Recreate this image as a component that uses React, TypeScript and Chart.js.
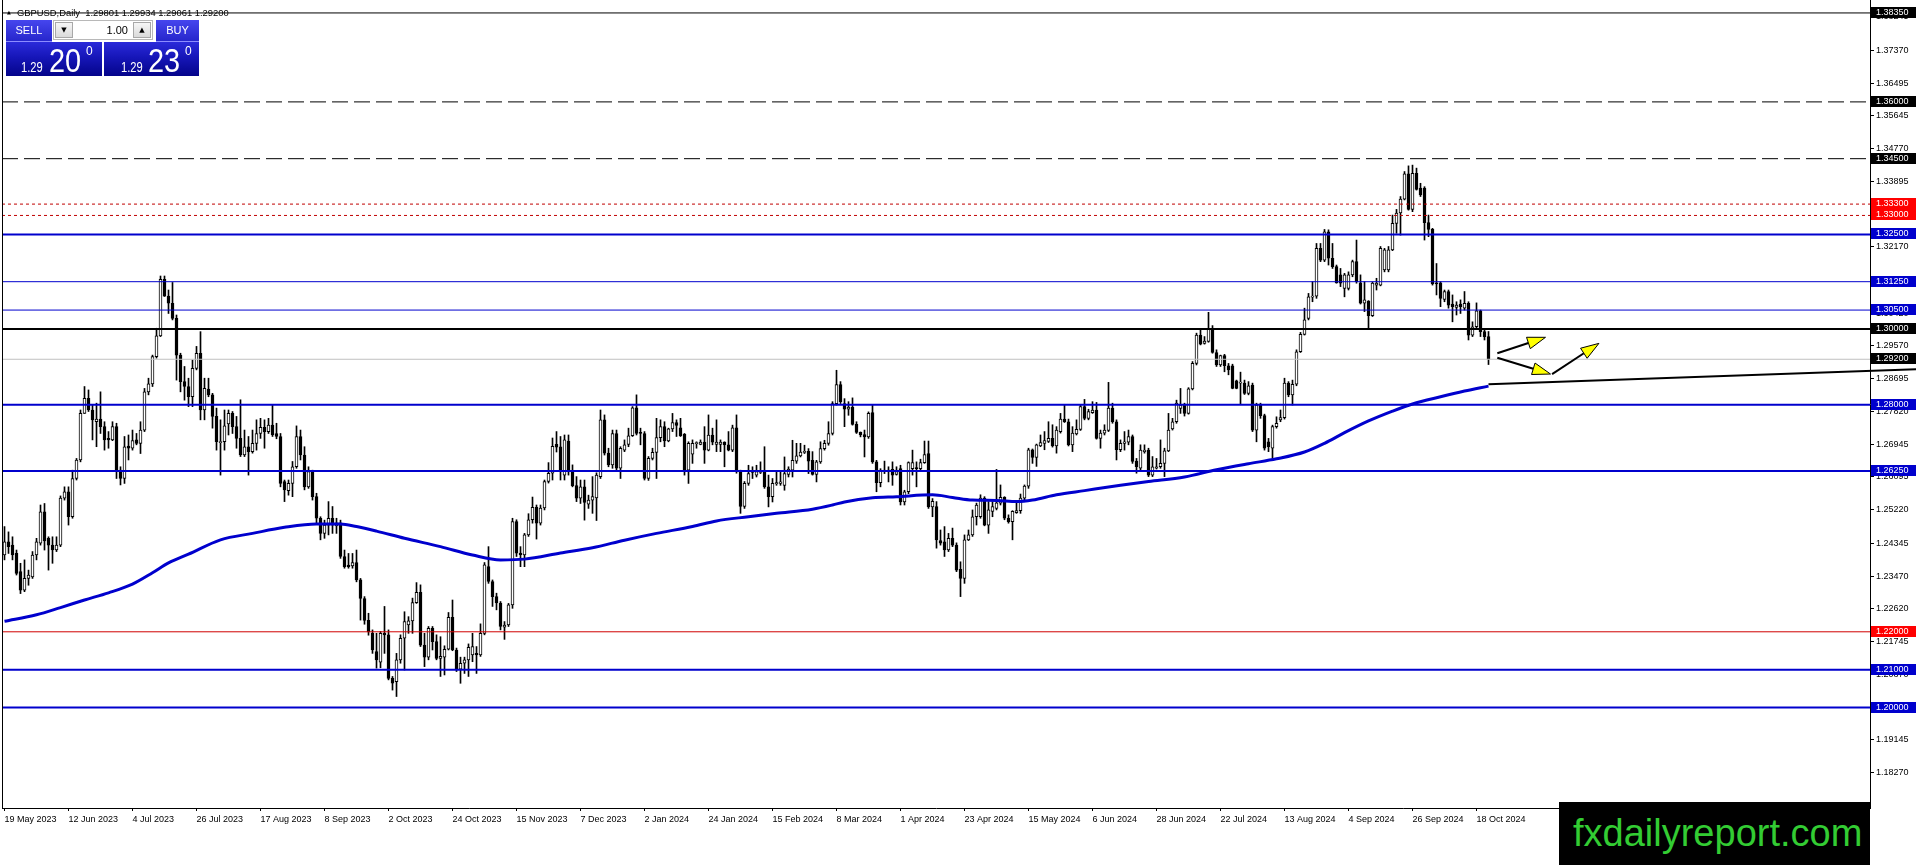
import React, { useEffect, useRef } from "react";
import { Chart, registerables } from "chart.js";

Chart.register(...registerables);

const FONT = '"Liberation Sans", Arial, sans-serif';

// ---- GBPUSD daily candles (bar index 0 = 19 May 2023, last = 23 Oct 2024) ----
const opens = [
1.2403,1.2438,1.2429,1.2407,1.2359,1.2310,1.2341,1.2345,1.2403,1.2434,
1.2517,1.2447,1.2429,1.2416,1.2429,1.2553,1.2570,1.2504,1.2605,1.2654,
1.2777,1.2817,1.2786,1.2755,1.2762,1.2742,1.2711,1.2707,1.2742,1.2627,
1.2605,1.2691,1.2685,1.2707,1.2698,1.2733,1.2834,1.2855,1.2927,1.2982,
1.3131,1.3087,1.3068,1.3028,1.2931,1.2861,1.2848,1.2821,1.2896,1.2936,
1.2786,1.2841,1.2826,1.2769,1.2700,1.2702,1.2749,1.2777,1.2742,1.2711,
1.2667,1.2689,1.2676,1.2698,1.2724,1.2740,1.2729,1.2746,1.2724,1.2716,
1.2597,1.2573,1.2592,1.2636,1.2716,1.2667,1.2583,1.2623,1.2557,1.2500,
1.2460,1.2482,1.2500,1.2480,1.2488,1.2399,1.2376,1.2374,1.2383,1.2337,
1.2288,1.2230,1.2196,1.2148,1.2120,1.2196,1.2192,1.2077,1.2068,1.2126,
1.2183,1.2218,1.2229,1.2277,1.2304,1.2165,1.2133,1.2209,1.2174,1.2130,
1.2133,1.2154,1.2238,1.2152,1.2101,1.2117,1.2126,1.2139,1.2143,1.2139,
1.2196,1.2372,1.2333,1.2293,1.2276,1.2212,1.2218,1.2271,1.2491,1.2408,
1.2403,1.2456,1.2496,1.2529,1.2487,1.2527,1.2597,1.2619,1.2695,1.2689,
1.2614,1.2704,1.2623,1.2586,1.2553,1.2583,1.2537,1.2548,1.2554,1.2610,
1.2760,1.2672,1.2641,1.2724,1.2632,1.2680,1.2695,1.2718,1.2792,1.2727,
1.2724,1.2605,1.2658,1.2674,1.2713,1.2742,1.2704,1.2736,1.2753,1.2739,
1.2722,1.2627,1.2669,1.2697,1.2695,1.2701,1.2680,1.2720,1.2695,1.2695,
1.2701,1.2694,1.2680,1.2739,1.2623,1.2531,1.2592,1.2624,1.2614,1.2621,
1.2624,1.2583,1.2557,1.2591,1.2592,1.2587,1.2616,1.2627,1.2651,1.2665,
1.2674,1.2677,1.2653,1.2616,1.2649,1.2684,1.2698,1.2724,1.2803,1.2853,
1.2803,1.2788,1.2794,1.2748,1.2727,1.2721,1.2715,1.2779,1.2649,1.2594,
1.2627,1.2623,1.2629,1.2616,1.2631,1.2543,1.2570,1.2631,1.2633,1.2631,
1.2647,1.2671,1.2530,1.2531,1.2441,1.2438,1.2416,1.2447,1.2429,1.2365,
1.2341,1.2443,1.2456,1.2504,1.2504,1.2553,1.2482,1.2518,1.2526,1.2540,
1.2555,1.2500,1.2491,1.2515,1.2520,1.2553,1.2585,1.2681,1.2661,1.2691,
1.2698,1.2703,1.2711,1.2691,1.2729,1.2762,1.2755,1.2694,1.2723,1.2735,
1.2795,1.2764,1.2779,1.2786,1.2711,1.2725,1.2732,1.2791,1.2755,1.2681,
1.2698,1.2701,1.2716,1.2651,1.2632,1.2676,1.2680,1.2614,1.2632,1.2636,
1.2645,1.2678,1.2736,1.2755,1.2790,1.2799,1.2777,1.2842,1.2909,1.2984,
1.2962,1.2967,1.3000,1.2938,1.2905,1.2930,1.2903,1.2903,1.2863,1.2857,
1.2857,1.2830,1.2852,1.2733,1.2799,1.2771,1.2702,1.2685,1.2742,1.2760,
1.2766,1.2857,1.2826,1.2854,1.2940,1.2986,1.3028,1.3084,1.3087,1.3213,
1.3182,1.3257,1.3187,1.3165,1.3143,1.3107,1.3107,1.3143,1.3178,1.3122,
1.3068,1.3074,1.3035,1.3116,1.3116,1.3156,1.3156,1.3209,1.3279,1.3307,
1.3343,1.3410,1.3316,1.3411,1.3372,1.3372,1.3281,1.3263,1.3122,1.3122,
1.3078,1.3099,1.3066,1.3057,1.3066,1.3055,1.3068,1.2984,1.3006,1.3048,
1.2993,1.29801
];

const highs = [
1.2478,1.2464,1.2451,1.2416,1.2381,1.2390,1.2363,1.2412,1.2447,1.2535,
1.2539,1.2451,1.2451,1.2451,1.2559,1.2583,1.2583,1.2627,1.2658,1.2786,
1.2848,1.2839,1.2799,1.2804,1.2834,1.2755,1.2729,1.2755,1.2751,1.2636,
1.2716,1.2720,1.2733,1.2724,1.2755,1.2843,1.2870,1.2931,1.3002,1.3140,
1.3140,1.3103,1.3123,1.3037,1.2936,1.2901,1.2870,1.2918,1.2954,1.2993,
1.2870,1.2870,1.2830,1.2791,1.2760,1.2786,1.2786,1.2782,1.2769,1.2813,
1.2733,1.2716,1.2733,1.2760,1.2764,1.2760,1.2764,1.2799,1.2751,1.2724,
1.2601,1.2601,1.2650,1.2744,1.2733,1.2689,1.2636,1.2627,1.2566,1.2504,
1.2495,1.2544,1.2531,1.2500,1.2495,1.2416,1.2407,1.2407,1.2416,1.2341,
1.2293,1.2249,1.2205,1.2196,1.2201,1.2267,1.2205,1.2082,1.2143,1.2192,
1.2253,1.2240,1.2289,1.2330,1.2324,1.2196,1.2214,1.2214,1.2192,1.2187,
1.2163,1.2251,1.2284,1.2157,1.2133,1.2133,1.2168,1.2196,1.2161,1.2221,
1.2383,1.2425,1.2337,1.2302,1.2280,1.2227,1.2275,1.2500,1.2496,1.2425,
1.2460,1.2512,1.2556,1.2535,1.2535,1.2601,1.2647,1.2712,1.2729,1.2716,
1.2720,1.2720,1.2641,1.2610,1.2601,1.2601,1.2561,1.2610,1.2620,1.2786,
1.2773,1.2685,1.2733,1.2733,1.2689,1.2707,1.2738,1.2795,1.2826,1.2738,
1.2729,1.2663,1.2685,1.2764,1.2760,1.2755,1.2738,1.2777,1.2760,1.2764,
1.2724,1.2702,1.2707,1.2702,1.2707,1.2742,1.2773,1.2738,1.2760,1.2707,
1.2702,1.2729,1.2746,1.2773,1.2627,1.2597,1.2640,1.2636,1.2640,1.2649,
1.2689,1.2614,1.2605,1.2623,1.2623,1.2662,1.2636,1.2706,1.2698,1.2698,
1.2693,1.2684,1.2676,1.2653,1.2702,1.2706,1.2755,1.2808,1.2891,1.2861,
1.2816,1.2808,1.2818,1.2755,1.2728,1.2733,1.2781,1.2799,1.2653,1.2631,
1.2651,1.2636,1.2649,1.2636,1.2640,1.2574,1.2649,1.2680,1.2649,1.2656,
1.2704,1.2704,1.2552,1.2544,1.2469,1.2478,1.2460,1.2474,1.2435,1.2385,
1.2456,1.2469,1.2522,1.2540,1.2562,1.2557,1.2544,1.2544,1.2629,1.2588,
1.2557,1.2509,1.2520,1.2540,1.2564,1.2588,1.2685,1.2683,1.2696,1.2720,
1.2729,1.2755,1.2747,1.2742,1.2777,1.2799,1.2762,1.2742,1.2760,1.2799,
1.2814,1.2788,1.2808,1.2806,1.2733,1.2747,1.2859,1.2804,1.2760,1.2707,
1.2729,1.2733,1.2720,1.2658,1.2694,1.2694,1.2685,1.2663,1.2658,1.2707,
1.2685,1.2777,1.2764,1.2812,1.2843,1.2804,1.2845,1.2914,1.2989,1.2997,
1.2980,1.3044,1.3009,1.2945,1.2931,1.2933,1.2909,1.2907,1.2865,1.2886,
1.2865,1.2861,1.2857,1.2804,1.2804,1.2775,1.2711,1.2746,1.2768,1.2786,
1.2870,1.2861,1.2865,1.2945,1.2991,1.3055,1.3094,1.3125,1.3226,1.3226,
1.3263,1.3262,1.3226,1.3169,1.3160,1.3147,1.3151,1.3182,1.3235,1.3143,
1.3125,1.3075,1.3124,1.3134,1.3218,1.3213,1.3218,1.3301,1.3316,1.3350,
1.3416,1.3431,1.3433,1.3425,1.3385,1.3376,1.3301,1.3266,1.3173,1.3125,
1.3103,1.3103,1.3090,1.3072,1.3077,1.3099,1.3072,1.3019,1.3069,1.3050,
1.2997,1.29934
];

const lows = [
1.2390,1.2407,1.2390,1.2350,1.2301,1.2306,1.2323,1.2341,1.2390,1.2429,
1.2416,1.2363,1.2381,1.2412,1.2425,1.2548,1.2482,1.2500,1.2601,1.2649,
1.2777,1.2782,1.2707,1.2689,1.2724,1.2680,1.2685,1.2705,1.2605,1.2588,
1.2592,1.2654,1.2680,1.2694,1.2671,1.2729,1.2826,1.2848,1.2923,1.2980,
1.3086,1.3041,1.3024,1.2865,1.2834,1.2812,1.2795,1.2795,1.2892,1.2760,
1.2760,1.2821,1.2738,1.2680,1.2614,1.2680,1.2720,1.2724,1.2685,1.2663,
1.2663,1.2614,1.2672,1.2680,1.2711,1.2685,1.2724,1.2716,1.2710,1.2583,
1.2544,1.2561,1.2557,1.2632,1.2654,1.2575,1.2579,1.2548,1.2487,1.2443,
1.2447,1.2456,1.2460,1.2460,1.2394,1.2368,1.2368,1.2368,1.2332,1.2231,
1.2220,1.2191,1.2143,1.2104,1.2105,1.2143,1.2073,1.2046,1.2029,1.2117,
1.2099,1.2196,1.2196,1.2275,1.2161,1.2108,1.2126,1.2152,1.2126,1.2082,
1.2086,1.2152,1.2150,1.2095,1.2064,1.2090,1.2082,1.2121,1.2090,1.2135,
1.2192,1.2328,1.2267,1.2258,1.2205,1.2180,1.2214,1.2262,1.2399,1.2372,
1.2372,1.2452,1.2487,1.2445,1.2482,1.2522,1.2593,1.2601,1.2675,1.2601,
1.2601,1.2614,1.2583,1.2544,1.2539,1.2495,1.2526,1.2513,1.2494,1.2605,
1.2667,1.2636,1.2632,1.2627,1.2605,1.2676,1.2689,1.2716,1.2720,1.2694,
1.2601,1.2600,1.2654,1.2605,1.2702,1.2689,1.2702,1.2729,1.2716,1.2716,
1.2614,1.2592,1.2645,1.2685,1.2694,1.2645,1.2678,1.2694,1.2676,1.2676,
1.2636,1.2678,1.2676,1.2619,1.2513,1.2526,1.2587,1.2605,1.2609,1.2618,
1.2579,1.2530,1.2543,1.2587,1.2587,1.2574,1.2609,1.2609,1.2645,1.2662,
1.2671,1.2618,1.2614,1.2596,1.2645,1.2680,1.2693,1.2720,1.2799,1.2803,
1.2742,1.2772,1.2746,1.2724,1.2715,1.2662,1.2711,1.2645,1.2570,1.2583,
1.2618,1.2596,1.2587,1.2614,1.2535,1.2535,1.2565,1.2614,1.2583,1.2627,
1.2645,1.2526,1.2504,1.2421,1.2429,1.2399,1.2412,1.2425,1.2359,1.2293,
1.2328,1.2441,1.2452,1.2482,1.2500,1.2480,1.2460,1.2504,1.2522,1.2535,
1.2496,1.2487,1.2443,1.2513,1.2513,1.2548,1.2579,1.2645,1.2637,1.2689,
1.2681,1.2700,1.2688,1.2672,1.2725,1.2753,1.2691,1.2676,1.2720,1.2732,
1.2760,1.2760,1.2777,1.2709,1.2685,1.2720,1.2729,1.2751,1.2654,1.2676,
1.2680,1.2694,1.2645,1.2619,1.2627,1.2672,1.2610,1.2610,1.2630,1.2632,
1.2610,1.2676,1.2733,1.2751,1.2777,1.2770,1.2775,1.2839,1.2905,1.2958,
1.2960,1.2965,1.2936,1.2901,1.2901,1.2887,1.2879,1.2842,1.2842,1.2801,
1.2827,1.2826,1.2729,1.2702,1.2764,1.2680,1.2676,1.2658,1.2738,1.2755,
1.2762,1.2821,1.2799,1.2850,1.2938,1.2984,1.3024,1.3072,1.3081,1.3178,
1.3178,1.3169,1.3160,1.3121,1.3112,1.3085,1.3103,1.3138,1.3121,1.3066,
1.3046,1.3002,1.3033,1.3103,1.3114,1.3151,1.3151,1.3207,1.3253,1.3248,
1.3341,1.3314,1.3310,1.3367,1.3350,1.3235,1.3244,1.3116,1.3090,1.3059,
1.3072,1.3055,1.3019,1.3037,1.3041,1.3050,1.2971,1.2980,1.3002,1.2980,
1.2971,1.29061
];

const closes = [
1.2438,1.2425,1.2403,1.2354,1.2310,1.2341,1.2350,1.2403,1.2438,1.2517,
1.2440,1.2429,1.2416,1.2429,1.2553,1.2570,1.2504,1.2605,1.2654,1.2777,
1.2817,1.2786,1.2760,1.2762,1.2742,1.2707,1.2707,1.2742,1.2627,1.2605,
1.2689,1.2685,1.2705,1.2698,1.2733,1.2834,1.2855,1.2927,1.2982,1.3131,
1.3087,1.3068,1.3028,1.2931,1.2861,1.2848,1.2821,1.2896,1.2936,1.2786,
1.2843,1.2826,1.2769,1.2702,1.2702,1.2744,1.2777,1.2742,1.2711,1.2667,
1.2689,1.2676,1.2698,1.2724,1.2740,1.2729,1.2746,1.2720,1.2716,1.2592,
1.2575,1.2592,1.2636,1.2716,1.2667,1.2583,1.2623,1.2557,1.2500,1.2460,
1.2482,1.2500,1.2482,1.2488,1.2399,1.2372,1.2372,1.2383,1.2337,1.2288,
1.2230,1.2200,1.2152,1.2126,1.2196,1.2192,1.2077,1.2064,1.2126,1.2183,
1.2227,1.2229,1.2277,1.2304,1.2165,1.2133,1.2209,1.2174,1.2130,1.2135,
1.2154,1.2238,1.2152,1.2099,1.2117,1.2126,1.2159,1.2161,1.2139,1.2196,
1.2377,1.2333,1.2293,1.2276,1.2214,1.2218,1.2271,1.2491,1.2408,1.2403,
1.2456,1.2496,1.2529,1.2487,1.2527,1.2597,1.2619,1.2690,1.2688,1.2623,
1.2707,1.2623,1.2586,1.2553,1.2583,1.2542,1.2548,1.2557,1.2614,1.2760,
1.2672,1.2641,1.2724,1.2632,1.2685,1.2694,1.2718,1.2792,1.2724,1.2724,
1.2605,1.2658,1.2674,1.2713,1.2742,1.2704,1.2736,1.2753,1.2745,1.2718,
1.2627,1.2698,1.2698,1.2700,1.2701,1.2680,1.2720,1.2701,1.2701,1.2701,
1.2694,1.2680,1.2739,1.2623,1.2531,1.2592,1.2618,1.2621,1.2623,1.2624,
1.2583,1.2557,1.2592,1.2594,1.2596,1.2618,1.2630,1.2653,1.2665,1.2675,
1.2677,1.2651,1.2616,1.2649,1.2684,1.2698,1.2724,1.2803,1.2853,1.2808,
1.2788,1.2794,1.2748,1.2727,1.2720,1.2715,1.2777,1.2649,1.2594,1.2627,
1.2624,1.2627,1.2614,1.2623,1.2543,1.2570,1.2647,1.2647,1.2631,1.2647,
1.2668,1.2530,1.2545,1.2443,1.2434,1.2416,1.2447,1.2429,1.2363,1.2341,
1.2443,1.2456,1.2504,1.2535,1.2553,1.2482,1.2522,1.2531,1.2541,1.2555,
1.2500,1.2491,1.2518,1.2520,1.2553,1.2585,1.2681,1.2661,1.2694,1.2700,
1.2705,1.2711,1.2691,1.2733,1.2762,1.2755,1.2694,1.2725,1.2735,1.2795,
1.2764,1.2782,1.2786,1.2711,1.2725,1.2733,1.2791,1.2755,1.2681,1.2698,
1.2702,1.2716,1.2650,1.2636,1.2680,1.2680,1.2614,1.2636,1.2636,1.2645,
1.2678,1.2733,1.2755,1.2804,1.2799,1.2777,1.2842,1.2909,1.2984,1.2960,
1.2968,1.3000,1.2938,1.2905,1.2930,1.2903,1.2892,1.2843,1.2843,1.2859,
1.2830,1.2850,1.2733,1.2799,1.2771,1.2685,1.2689,1.2742,1.2751,1.2766,
1.2857,1.2826,1.2854,1.2940,1.2986,1.3024,1.3085,1.3087,1.3213,1.3182,
1.3257,1.3187,1.3165,1.3122,1.3121,1.3143,1.3143,1.3178,1.3125,1.3068,
1.3077,1.3035,1.3121,1.3121,1.3213,1.3209,1.3209,1.3279,1.3306,1.3343,
1.3410,1.3316,1.3411,1.3369,1.3354,1.3281,1.3263,1.3119,1.3119,1.3081,
1.3099,1.3063,1.3059,1.3063,1.3059,1.3068,1.2984,1.3006,1.3048,1.2993,
1.2980,1.29200
];

// ---- moving average (bar index, value) ----
const maBars = [0, 8, 14, 20, 26, 32, 37, 41, 46, 54, 62, 70, 78, 84, 88, 93, 100, 109, 117, 124, 130, 139, 147, 155, 163, 172, 178, 186, 193, 202, 207, 210, 217, 223, 232, 237, 242, 248, 253, 257, 263, 270, 279, 286, 295, 303, 311, 318, 325, 330, 335, 341, 347, 352, 359, 365, 371];
const maValues = [1.2228, 1.2245, 1.2264, 1.2284, 1.2303, 1.2326, 1.2356, 1.2382, 1.2405, 1.2443, 1.2460, 1.2476, 1.2485, 1.2485, 1.2478, 1.2466, 1.2447, 1.2425, 1.2403, 1.2390, 1.2392, 1.2408, 1.2422, 1.2442, 1.2460, 1.2478, 1.2493, 1.2504, 1.2513, 1.2524, 1.2535, 1.2543, 1.2554, 1.2557, 1.2562, 1.2555, 1.2548, 1.2547, 1.2544, 1.2548, 1.2562, 1.2573, 1.2587, 1.2597, 1.2609, 1.2628, 1.2644, 1.2657, 1.2675, 1.2698, 1.2726, 1.2757, 1.2783, 1.2802, 1.2821, 1.2836, 1.2849];

// ---- horizontal levels ----
const levelPrices = [1.3835, 1.36, 1.345, 1.333, 1.33, 1.325, 1.3125, 1.305, 1.30, 1.292, 1.28, 1.2625, 1.22, 1.21, 1.20];
const levelKinds = ["top", "resist", "resist", "target", "target", "major", "minor", "minor", "pivot", "bid", "major", "major", "stop", "major", "major"];

// ---- trend line and arrows ----
const trendBars = [371, 478];
const trendPrices = [1.2854, 1.2894];
const arrowStartBar = [373.2, 373.2, 386.9];
const arrowStartPrice = [1.2936, 1.2924, 1.2881];
const arrowEndBar = [385.25, 386.5, 398.6];
const arrowEndPrice = [1.2978, 1.2881, 1.2962];

// ---- axes ----
const tickBars = [0, 16, 32, 48, 64, 80, 96, 112, 128, 144, 160, 176, 192, 208, 224, 240, 256, 272, 288, 304, 320, 336, 352, 368];
const tickLabels = ["19 May 2023", "12 Jun 2023", "4 Jul 2023", "26 Jul 2023", "17 Aug 2023", "8 Sep 2023", "2 Oct 2023", "24 Oct 2023", "15 Nov 2023", "7 Dec 2023", "2 Jan 2024", "24 Jan 2024", "15 Feb 2024", "8 Mar 2024", "1 Apr 2024", "23 Apr 2024", "15 May 2024", "6 Jun 2024", "28 Jun 2024", "22 Jul 2024", "13 Aug 2024", "4 Sep 2024", "26 Sep 2024", "18 Oct 2024"];
const priceTicks = [1.38245, 1.3737, 1.36495, 1.35645, 1.3477, 1.33895, 1.3302, 1.3217, 1.31295, 1.3042, 1.2957, 1.28695, 1.2782, 1.26945, 1.26095, 1.2522, 1.24345, 1.2347, 1.2262, 1.21745, 1.2087, 1.19995, 1.19145, 1.1827];

const X_MIN = -0.625;
const X_MAX = 466.375;
const Y_MIN = 1.173448;
const Y_MAX = 1.386922;

const KIND_STYLE: any = {
  top: { line: "#000000", width: 1, dash: [], box: "#000000" },
  resist: { line: "#000000", width: 1, dash: [16, 6], box: "#000000" },
  target: { line: "#c00000", width: 1, dash: [3, 3], box: "#ff0000" },
  major: { line: "#0000cd", width: 2, dash: [], box: "#0000cd" },
  minor: { line: "#0000cd", width: 1, dash: [], box: "#0000cd" },
  pivot: { line: "#000000", width: 2, dash: [], box: "#000000" },
  bid: { line: "#c0c0c0", width: 1, dash: [], box: "#000000" },
  stop: { line: "#d00000", width: 1, dash: [], box: "#ff0000" },
};

const decorPlugin = {
  id: "decor",
  afterDatasetsDraw(chart: any) {
    const { ctx, scales } = chart;
    const xs = scales.x;
    const ys = scales.y;
    ctx.save();
    for (let i = 0; i < arrowStartBar.length; i++) {
      const x1 = xs.getPixelForValue(arrowStartBar[i]);
      const y1 = ys.getPixelForValue(arrowStartPrice[i]);
      const x2 = xs.getPixelForValue(arrowEndBar[i]);
      const y2 = ys.getPixelForValue(arrowEndPrice[i]);
      const a = Math.atan2(y2 - y1, x2 - x1);
      const L = 18;
      const W = 6;
      const bx = x2 - L * Math.cos(a);
      const by = y2 - L * Math.sin(a);
      ctx.strokeStyle = "#000";
      ctx.lineWidth = 2;
      ctx.beginPath();
      ctx.moveTo(x1, y1);
      ctx.lineTo(bx, by);
      ctx.stroke();
      ctx.beginPath();
      ctx.moveTo(x2, y2);
      ctx.lineTo(bx + W * Math.sin(a), by - W * Math.cos(a));
      ctx.lineTo(bx - W * Math.sin(a), by + W * Math.cos(a));
      ctx.closePath();
      ctx.fillStyle = "#ffff00";
      ctx.fill();
      ctx.lineWidth = 1;
      ctx.stroke();
    }
    ctx.restore();
  },
  afterDraw(chart: any) {
    const { ctx, chartArea, scales } = chart;
    const ys = scales.y;
    ctx.save();
    ctx.fillStyle = "#000";
    ctx.fillRect(chartArea.left, chartArea.top, 1, chartArea.bottom - chartArea.top);
    ctx.font = `9px ${FONT}`;
    ctx.textBaseline = "middle";
    ctx.textAlign = "left";
    levelPrices.forEach((p, i) => {
      const yy = Math.round(ys.getPixelForValue(p));
      ctx.fillStyle = KIND_STYLE[levelKinds[i]].box;
      ctx.fillRect(chartArea.right + 1, yy - 6, 46, 11);
      ctx.fillStyle = "#ffffff";
      ctx.fillText(p.toFixed(5), chartArea.right + 6, yy);
    });
    ctx.restore();
  },
};

function buildConfig(): any {
  const n = Math.min(opens.length, highs.length, lows.length, closes.length);
  const idx = Array.from({ length: n }, (_, i) => i);
  const wickData = idx.map((i) => ({ x: i, y: [lows[i], highs[i]] }));
  const bodyData = idx.map((i) => ({ x: i, y: [opens[i], closes[i]] }));
  const bodyColors = idx.map((i) => (closes[i] >= opens[i] ? "#ffffff" : "#000000"));

  const levelSets = levelPrices.map((p, i) => {
    const st = KIND_STYLE[levelKinds[i]];
    return {
      type: "line",
      data: [{ x: X_MIN, y: p }, { x: X_MAX, y: p }],
      borderColor: st.line,
      borderWidth: st.width,
      borderDash: st.dash,
      pointRadius: 0,
      fill: false,
      order: 4,
    };
  });

  return {
    type: "bar",
    data: {
      datasets: [
        {
          type: "bar",
          data: wickData,
          backgroundColor: "#000000",
          borderWidth: 0,
          barThickness: 1,
          grouped: false,
          order: 6,
        },
        {
          type: "bar",
          data: bodyData,
          backgroundColor: bodyColors,
          borderColor: "#000000",
          borderWidth: 1,
          borderSkipped: false,
          barThickness: 3,
          minBarLength: 1,
          grouped: false,
          order: 5,
        },
        ...levelSets,
        {
          type: "line",
          data: maBars.map((b, i) => ({ x: b, y: maValues[i] })),
          borderColor: "#0000cd",
          borderWidth: 3,
          pointRadius: 0,
          cubicInterpolationMode: "monotone",
          fill: false,
          order: 3,
        },
        {
          type: "line",
          data: trendBars.map((b, i) => ({ x: b, y: trendPrices[i] })),
          borderColor: "#000000",
          borderWidth: 2,
          pointRadius: 0,
          fill: false,
          clip: false,
          order: 2,
        },
      ],
    },
    options: {
      animation: false,
      responsive: false,
      events: [],
      layout: { padding: { left: 2, right: 0, top: 0, bottom: 0 } },
      plugins: { legend: { display: false }, tooltip: { enabled: false } },
      scales: {
        x: {
          type: "linear",
          min: X_MIN,
          max: X_MAX,
          offset: false,
          grid: { drawOnChartArea: false, drawTicks: true, tickLength: 3, color: "#000", offset: false },
          border: { display: true, color: "#000", width: 1 },
          ticks: {
            autoSkip: false,
            maxRotation: 0,
            minRotation: 0,
            align: "start",
            padding: 3,
            color: "#000",
            font: { family: FONT, size: 9 },
            callback: (_v: any, i: number) => tickLabels[i],
          },
          afterBuildTicks: (s: any) => {
            s.ticks = tickBars.map((v) => ({ value: v }));
          },
          afterFit: (s: any) => {
            s.height = 57;
            s.paddingLeft = 0;
            s.paddingRight = 0;
          },
        },
        y: {
          type: "linear",
          position: "right",
          min: Y_MIN,
          max: Y_MAX,
          grid: { drawOnChartArea: false, drawTicks: true, tickLength: 4, color: "#000" },
          border: { display: true, color: "#000", width: 1 },
          ticks: {
            autoSkip: false,
            padding: 2,
            color: "#000",
            font: { family: FONT, size: 9 },
            callback: (v: any) => Number(v).toFixed(5),
          },
          afterBuildTicks: (s: any) => {
            s.ticks = priceTicks.map((v) => ({ value: v }));
          },
          afterFit: (s: any) => {
            s.width = 46;
            s.paddingTop = 0;
            s.paddingBottom = 0;
          },
        },
      },
    },
    plugins: [decorPlugin],
  };
}

const labelBg = "linear-gradient(180deg, #4646ee 0%, #2626cc 100%)";
const priceBg = "linear-gradient(180deg, #2a2ada 0%, #1616b8 45%, #04048a 100%)";

function PriceBox(props: { left: number; width: number; big: string; o1: number; o2: number; o3: number }) {
  const { left, width, big, o1, o2, o3 } = props;
  return (
    <div style={{ position: "absolute", left, top: 42, width, height: 34, background: priceBg, color: "#fff", fontFamily: FONT, overflow: "hidden" }}>
      <span style={{ position: "absolute", left: o1, top: 18, fontSize: 14, lineHeight: 1, transform: "scaleX(0.8)", transformOrigin: "left top" }}>1.29</span>
      <span style={{ position: "absolute", left: o2, top: 0.5, fontSize: 34, lineHeight: 1, transform: "scaleX(0.85)", transformOrigin: "left top" }}>{big}</span>
      <span style={{ position: "absolute", left: o3, top: 3, fontSize: 12, lineHeight: 1 }}>0</span>
    </div>
  );
}

export default function App() {
  const canvasRef = useRef<HTMLCanvasElement>(null);
  useEffect(() => {
    const canvas = canvasRef.current;
    if (!canvas) return;
    const chart = new Chart(canvas, buildConfig());
    return () => chart.destroy();
  }, []);

  const btn: any = {
    position: "absolute",
    top: 1,
    width: 18,
    height: 16,
    background: "linear-gradient(#f6f6f6, #dadada)",
    border: "1px solid #a8a8a8",
    boxSizing: "border-box",
    fontSize: 7,
    lineHeight: "14px",
    textAlign: "center",
    color: "#000",
    fontFamily: "DejaVu Sans, sans-serif",
  };

  return (
    <div style={{ position: "fixed", left: 0, top: 0, width: 1916, height: 865, background: "#ffffff", overflow: "hidden" }}>
      <canvas ref={canvasRef} width={1916} height={865} style={{ position: "absolute", left: 0, top: 0, width: 1916, height: 865 }} />

      <div style={{ position: "absolute", left: 7, top: 8, fontSize: 5, lineHeight: "8px", fontFamily: "DejaVu Sans, sans-serif", color: "#000" }}>▲</div>
      <div style={{ position: "absolute", left: 17, top: 7, fontSize: 9.4, lineHeight: "11px", fontFamily: FONT, color: "#000", whiteSpace: "pre" }}>
        GBPUSD,Daily  1.29801 1.29934 1.29061 1.29200
      </div>

      <div style={{ position: "absolute", left: 6, top: 20, width: 46, height: 22, background: labelBg, color: "#fff", fontFamily: FONT, fontSize: 11, lineHeight: "21px", textAlign: "center", boxSizing: "border-box", borderBottom: "1px solid #8c8cff" }}>SELL</div>
      <div style={{ position: "absolute", left: 53, top: 20, width: 100, height: 20, background: "#fff", border: "1px solid #b8b8b8", boxSizing: "border-box" }}>
        <div style={{ ...btn, left: 1 }}>▼</div>
        <div style={{ position: "absolute", right: 24, top: 0, lineHeight: "18px", fontSize: 11, fontFamily: FONT, color: "#000" }}>1.00</div>
        <div style={{ ...btn, right: 1 }}>▲</div>
      </div>
      <div style={{ position: "absolute", left: 156, top: 20, width: 43, height: 22, background: labelBg, color: "#fff", fontFamily: FONT, fontSize: 11, lineHeight: "21px", textAlign: "center", boxSizing: "border-box", borderBottom: "1px solid #8c8cff" }}>BUY</div>
      <PriceBox left={6} width={96} big="20" o1={15} o2={43} o3={80} />
      <PriceBox left={104} width={95} big="23" o1={17} o2={44} o3={81} />

      <div style={{ position: "absolute", left: 1559, top: 802, width: 311, height: 63, background: "#000", color: "#33cc33", fontFamily: FONT, fontSize: 38, lineHeight: "62px", paddingLeft: 14, boxSizing: "border-box", whiteSpace: "nowrap" }}>
        fxdailyreport.com
      </div>
    </div>
  );
}
